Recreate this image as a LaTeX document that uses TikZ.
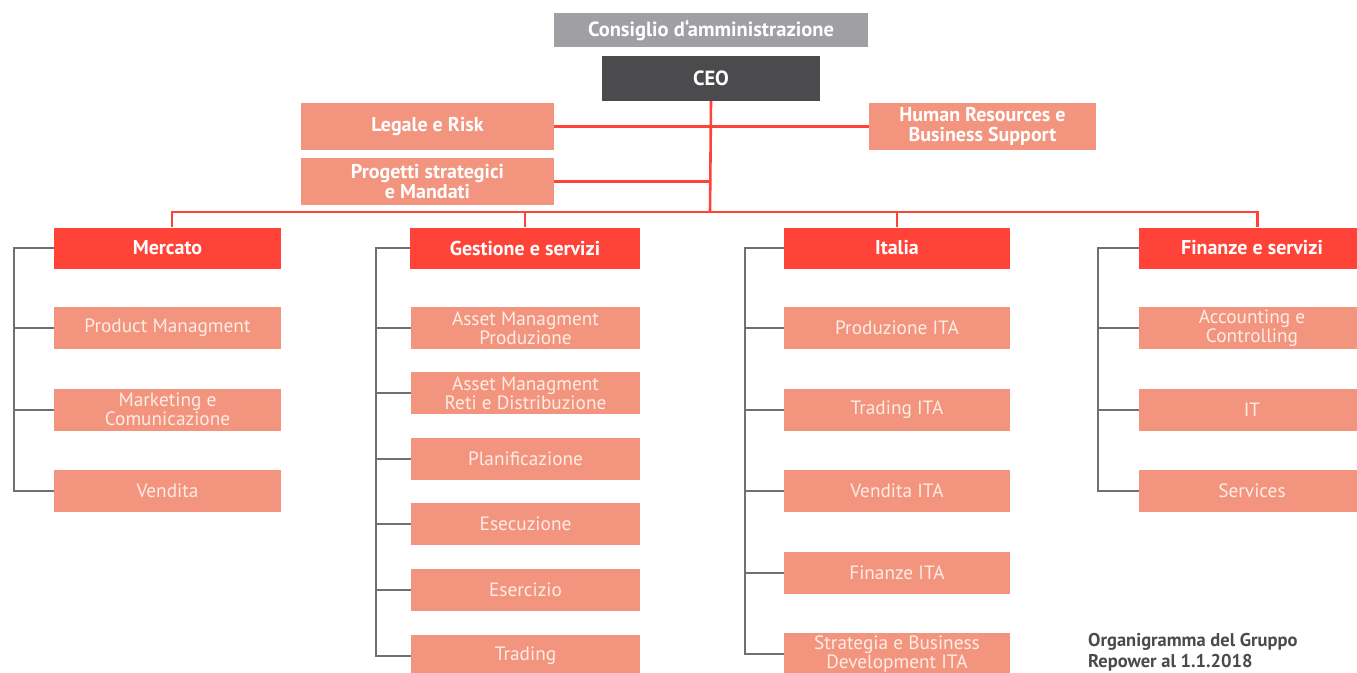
\documentclass[tikz,border=0pt]{standalone}
\usepackage{fontspec}
\setmainfont{PT Sans}
\usetikzlibrary{calc}
\definecolor{hred}{RGB}{255,67,56}
\definecolor{salmon}{RGB}{243,149,126}
\definecolor{boardgray}{RGB}{160,160,164}
\definecolor{ceogray}{RGB}{75,75,77}
\definecolor{linegray}{RGB}{110,112,115}
\definecolor{childtext}{RGB}{255,236,228}
\definecolor{captiongray}{RGB}{74,74,76}
\tikzset{
  box/.style={rectangle, inner sep=0pt, align=center, text=white},
  toptitle/.style={box, font=\bfseries\fontsize{20.5}{20}\selectfont},
  head/.style={box, fill=hred, minimum height=41pt, font=\bfseries\fontsize{20}{20}\selectfont},
  staff/.style={box, fill=salmon, minimum width=253pt, minimum height=47pt, font=\bfseries\fontsize{20}{20}\selectfont},
  child/.style={box, fill=salmon, minimum height=42pt, text=childtext, font=\fontsize{19.3}{17}\selectfont},
  redline/.style={draw=hred, line width=2.6pt},
  grayline/.style={draw=linegray, line width=2pt},
}
\begin{document}
\begin{tikzpicture}[x=1pt, y=-1pt]
\useasboundingbox (0,0) rectangle (1357,672);

% top
\node[toptitle, fill=boardgray, minimum width=314pt, minimum height=34pt] (board) at (711,30) {Consiglio d‘amministrazione};
\node[toptitle, fill=ceogray, minimum width=218pt, minimum height=45pt] (ceo) at (711,78.5) {CEO};
\node[staff] (legal) at (427.5,126.5) {Legale e Risk};
\node[staff] (proj) at (427.5,181.5) {Progetti strategici\\e Mandati};
\node[staff, minimum width=227pt] (hr) at (982.5,126.5) {Human Resources e\\Business Support};

% headers
\node[head, minimum width=227pt] (mercato) at (167.5,248) {Mercato};
\node[head, minimum width=230pt] (gestione) at (525,248) {Gestione e servizi};
\node[head, minimum width=226pt] (italia) at (897,248) {Italia};
\node[head, minimum width=226pt] (finanze) at (1252,248) {Finanze e servizi};

% column 1
\node[child, minimum width=227pt] (m1) at (167.5,328) {Product Managment};
\node[child, minimum width=227pt] (m2) at (167.5,409.5) {Marketing e\\Comunicazione};
\node[child, minimum width=227pt] (m3) at (167.5,491) {Vendita};
% column 2
\node[child, minimum width=229pt] (g1) at (525.5,328) {Asset Managment\\Produzione};
\node[child, minimum width=229pt] (g2) at (525.5,393) {Asset Managment\\Reti e Distribuzione};
\node[child, minimum width=229pt] (g3) at (525.5,459) {Planificazione};
\node[child, minimum width=229pt] (g4) at (525.5,524) {Esecuzione};
\node[child, minimum width=229pt] (g5) at (525.5,590) {Esercizio};
\node[child, minimum width=229pt] (g6) at (525.5,656) {Trading};
% column 3
\node[child, minimum width=226pt] (i1) at (897,328) {Produzione ITA};
\node[child, minimum width=226pt] (i2) at (897,409.5) {Trading ITA};
\node[child, minimum width=226pt] (i3) at (897,491) {Vendita ITA};
\node[child, minimum width=226pt] (i4) at (897,572.5) {Finanze ITA};
\node[child, minimum width=226pt] (i5) at (897,654) {Strategia e Business\\Development ITA};
% column 4
\node[child, minimum width=226pt] (f1) at (1252,328) {Accounting e\\Controlling};
\node[child, minimum width=226pt] (f2) at (1252,409.5) {IT};
\node[child, minimum width=226pt] (f3) at (1252,491) {Services};

% caption
\node[anchor=west, align=left, inner sep=0pt, text=captiongray, font=\bfseries\fontsize{18.5}{21}\selectfont] (caption) at (1088,652) {Organigramma del Gruppo\\Repower al 1.1.2018};

% red connectors
\coordinate (bus) at (710,212);
\coordinate (dm) at ($(mercato.north)+(4.5,0)$);
\coordinate (df) at ($(finanze.north)+(5.5,0)$);
\draw[redline] (ceo.south) -- (bus);
\draw[redline] (legal.east) -- (hr.west);
\draw[redline] (proj.east) -- (proj.east -| bus);
\draw[redline] (dm) |- (bus) -| (df);
\draw[redline] (gestione.north) -- (gestione.north |- bus);
\draw[redline] (italia.north) -- (italia.north |- bus);

% gray trunks
\coordinate (t1) at (14,0);
\coordinate (t2) at (376,0);
\coordinate (t3) at (745,0);
\coordinate (t4) at (1098,0);
\draw[grayline] (mercato.west) -| (t1 |- m3.west) -- (m3.west);
\foreach \c in {m1,m2} \draw[grayline] (\c.west) -- (\c.west -| t1);
\draw[grayline] (gestione.west) -| (t2 |- g6.west) -- (g6.west);
\foreach \c in {g1,g2,g3,g4,g5} \draw[grayline] (\c.west) -- (\c.west -| t2);
\draw[grayline] (italia.west) -| (t3 |- i5.west) -- (i5.west);
\foreach \c in {i1,i2,i3,i4} \draw[grayline] (\c.west) -- (\c.west -| t3);
\draw[grayline] (finanze.west) -| (t4 |- f3.west) -- (f3.west);
\foreach \c in {f1,f2} \draw[grayline] (\c.west) -- (\c.west -| t4);
\end{tikzpicture}
\end{document}
